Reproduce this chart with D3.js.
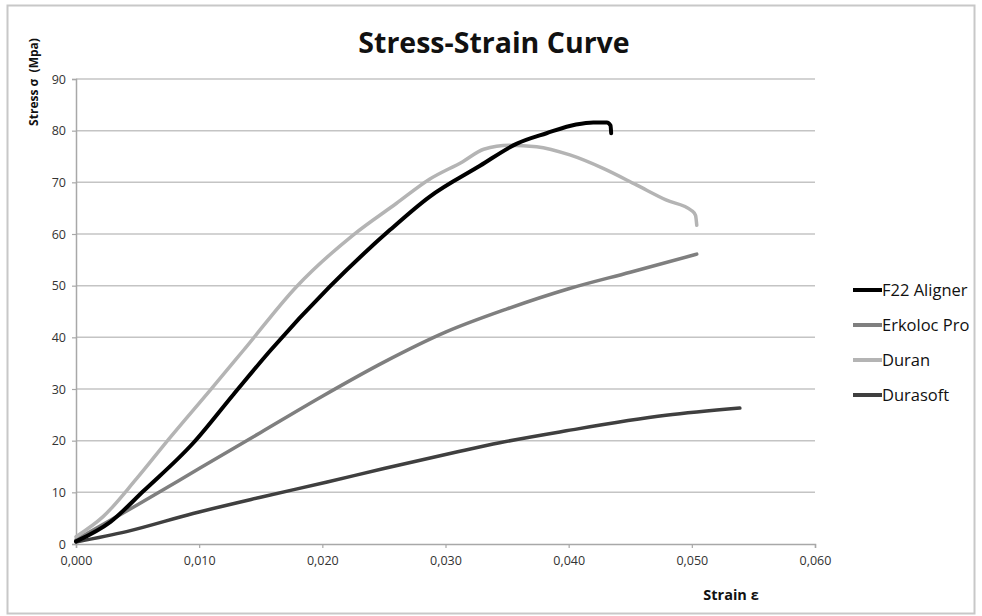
<!DOCTYPE html>
<html>
<head>
<meta charset="utf-8">
<script src="https://cdn.jsdelivr.net/npm/d3@7"></script>
<style>
  body { margin: 0; background: #fff; }
  text { font-family: "Open Sans", "Noto Sans", sans-serif; }
</style>
</head>
<body>
<script>
// strain / stress pairs
var seriesNames = ["F22 Aligner", "Erkoloc Pro", "Duran", "Durasoft"];

var f22Strain = [0.0000, 0.0028, 0.0055, 0.0095, 0.0128, 0.0158, 0.0206, 0.0255, 0.0287, 0.0328, 0.0358, 0.0382, 0.0406, 0.0420, 0.0431, 0.0434, 0.04345];
var f22Stress = [0.5, 4.3, 10.3, 19.5, 29.0, 37.5, 49.8, 60.8, 67.2, 73.2, 77.5, 79.5, 81.2, 81.6, 81.6, 81.0, 79.5];

var erkStrain = [0.000, 0.005, 0.010, 0.015, 0.020, 0.025, 0.030, 0.035, 0.040, 0.045, 0.0504];
var erkStress = [0.8, 7.6, 14.6, 21.6, 28.6, 35.2, 41.0, 45.5, 49.4, 52.6, 56.1];

var duranStrain = [0.0000, 0.0022, 0.0049, 0.0076, 0.0109, 0.0136, 0.0179, 0.0225, 0.0260, 0.0287, 0.0314, 0.0331, 0.0352, 0.0374, 0.0401, 0.0428, 0.0455, 0.0479, 0.0500, 0.0503, 0.0504];
var duranStress = [1.4, 5.3, 12.6, 20.5, 29.8, 37.5, 49.8, 59.8, 65.9, 70.6, 74.0, 76.4, 77.2, 76.9, 75.3, 72.7, 69.5, 66.6, 64.5, 63.6, 61.7];

var softStrain = [0.0000, 0.0041, 0.0095, 0.0149, 0.0204, 0.0250, 0.0309, 0.0344, 0.0398, 0.0479, 0.0539];
var softStress = [0.4, 2.4, 5.9, 9.0, 12.0, 14.6, 17.8, 19.6, 21.9, 24.9, 26.3];

var xTicks = [0, 0.01, 0.02, 0.03, 0.04, 0.05, 0.06];
var yTicks = [0, 10, 20, 30, 40, 50, 60, 70, 80, 90];

var colors = ["#000000", "#7f7f7f", "#b4b4b4", "#3f3f3f"];

var width = 982, height = 616;
var margin = {left: 76, right: 167, top: 79, bottom: 72};

var svg = d3.select("body").append("svg")
  .attr("width", width)
  .attr("height", height);

// outer chart frame
svg.append("rect")
  .attr("x", 7.5).attr("y", 5.5)
  .attr("width", 967).attr("height", 608)
  .attr("fill", "#fff")
  .attr("stroke", "#c8c8c8")
  .attr("stroke-width", 2);

var x = d3.scaleLinear().domain([0, 0.06]).range([margin.left, width - margin.right]);
var y = d3.scaleLinear().domain([0, 90]).range([height - margin.bottom, margin.top]);

// gridlines
svg.append("g").selectAll("line")
  .data(yTicks.filter(d => d > 0))
  .enter().append("line")
  .attr("x1", x(0)).attr("x2", x(0.06))
  .attr("y1", d => y(d)).attr("y2", d => y(d))
  .attr("stroke", "#c4c4c4")
  .attr("stroke-width", 1.5);

var fmt = d => d3.format(".3f")(d).replace(".", ",");

var xAxis = svg.append("g")
  .attr("transform", "translate(0," + y(0) + ")")
  .call(d3.axisBottom(x).tickValues(xTicks).tickFormat(fmt).tickSize(4).tickPadding(8));

var yAxis = svg.append("g")
  .attr("transform", "translate(" + x(0) + ",0)")
  .call(d3.axisLeft(y).tickValues(yTicks).tickSize(4).tickPadding(6));

[xAxis, yAxis].forEach(function(a) {
  a.select(".domain").attr("stroke", "#a8a8a8").attr("stroke-width", 1.5);
  a.selectAll(".tick line").attr("stroke", "#a8a8a8").attr("stroke-width", 1.2);
  a.selectAll(".tick text")
    .attr("fill", "#333")
    .style("font-size", "12.5px")
    .style("font-family", "'Open Sans', sans-serif");
});

var lineGen = d3.line()
  .x(d => x(d[0]))
  .y(d => y(d[1]))
  .curve(d3.curveMonotoneX);

var series = [
  d3.zip(f22Strain, f22Stress),
  d3.zip(erkStrain, erkStress),
  d3.zip(duranStrain, duranStress),
  d3.zip(softStrain, softStress)
];

// draw order so the black one sits on top
[3, 1, 2, 0].forEach(function(i) {
  svg.append("path")
    .datum(series[i])
    .attr("d", lineGen)
    .attr("fill", "none")
    .attr("stroke", colors[i])
    .attr("stroke-width", i == 0 ? 4 : 3.5)
    .attr("stroke-linecap", "round")
    .attr("stroke-linejoin", "round");
});

// legend
var legend = svg.append("g");
seriesNames.forEach(function(name, i) {
  var ly = 290 + i * 35;
  legend.append("line")
    .attr("x1", 853).attr("x2", 882)
    .attr("y1", ly).attr("y2", ly)
    .attr("stroke", colors[i])
    .attr("stroke-width", 4);
  legend.append("text")
    .attr("x", 882).attr("y", ly + 6)
    .attr("fill", "#111")
    .style("font-size", "16.5px")
    .text(name);
});

// titles
svg.append("text")
  .attr("x", 494).attr("y", 53)
  .attr("text-anchor", "middle")
  .style("font-size", "28.5px")
  .style("font-weight", "bold")
  .attr("fill", "#111")
  .text("Stress-Strain Curve");

svg.append("text")
  .attr("transform", "translate(38,82) rotate(-90)")
  .attr("text-anchor", "middle")
  .style("font-size", "12px")
  .style("font-weight", "bold")
  .style("white-space", "pre")
  .attr("fill", "#111")
  .text("Stress σ  (Mpa)");

svg.append("text")
  .attr("x", 731).attr("y", 600)
  .attr("text-anchor", "middle")
  .style("font-size", "14.5px")
  .style("font-weight", "bold")
  .attr("fill", "#111")
  .text("Strain ε");
</script>
</body>
</html>
